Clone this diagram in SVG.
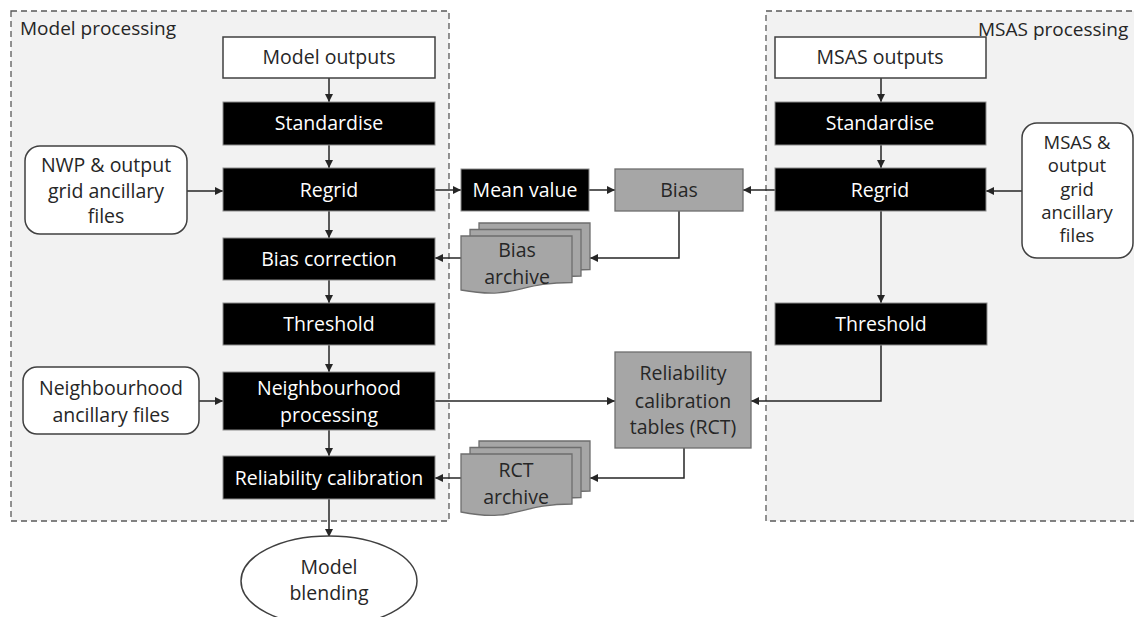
<svg xmlns="http://www.w3.org/2000/svg" width="1134" height="617" viewBox="0 0 1134 617">
<style>
text{font-family:"Open Sans","Liberation Sans",sans-serif;font-size:19.5px;text-anchor:middle}
.cont{fill:#f2f2f2;stroke:#595959;stroke-width:1.3;stroke-dasharray:6 4}
.title{text-anchor:start;fill:#262626;font-size:19px}
.wbox{fill:#ffffff;stroke:#404040;stroke-width:1.5}
.bbox{fill:#000000;stroke:#8c8c8c;stroke-width:1}
.gbox{fill:#a6a6a6;stroke:#6e6e6e;stroke-width:1.3}
.wt{fill:#ffffff}
.dt{fill:#262626}
.sm{font-size:18.5px}
.conn path{fill:none;stroke:#262626;stroke-width:1.5;marker-end:url(#ah)}
</style>
<defs>
<marker id="ah" markerUnits="userSpaceOnUse" markerWidth="9" markerHeight="8" refX="8" refY="4" orient="auto">
<path d="M0,0 L8,4 L0,8 z" fill="#262626"/>
</marker>
</defs>
<g id="model-processing">
<rect class="cont" x="11" y="11" width="438" height="510"/>
<text class="title" x="20" y="35">Model processing</text>
</g>
<g id="msas-processing">
<rect class="cont" x="766" y="11" width="380" height="510"/>
<text class="title" x="978" y="36">MSAS processing</text>
</g>
<g class="conn" id="connectors">
<path d="M329,78 V102"/>
<path d="M329,145 V168"/>
<path d="M329,211 V238"/>
<path d="M329,280 V303"/>
<path d="M329,345 V372"/>
<path d="M329,430 V456"/>
<path d="M329,499 V537"/>
<path d="M187,191 H223"/>
<path d="M199,401 H223"/>
<path d="M435,190 H461"/>
<path d="M589,190 H615"/>
<path d="M775,190 H743"/>
<path d="M679,211 V258 H590"/>
<path d="M461,258 H435"/>
<path d="M435,401 H615"/>
<path d="M684,448 V478 H590"/>
<path d="M461,478 H435"/>
<path d="M881,78 V102"/>
<path d="M881,145 V168"/>
<path d="M881,211 V303"/>
<path d="M881,345 V401 H751"/>
<path d="M1022,191 H986"/>
</g>
<g id="model-outputs"><rect class="wbox" x="223" y="37" width="212" height="41"/><text class="dt" x="329" y="64">Model outputs</text></g>
<g id="standardise-l"><rect class="bbox" x="223" y="102" width="212" height="43"/><text class="wt" x="329" y="130">Standardise</text></g>
<g id="regrid-l"><rect class="bbox" x="223" y="168" width="212" height="43"/><text class="wt" x="329" y="197">Regrid</text></g>
<g id="bias-correction"><rect class="bbox" x="223" y="238" width="212" height="42"/><text class="wt" x="329" y="266">Bias correction</text></g>
<g id="threshold-l"><rect class="bbox" x="223" y="303" width="212" height="42"/><text class="wt" x="329" y="331">Threshold</text></g>
<g id="neighbourhood-processing"><rect class="bbox" x="223" y="372" width="212" height="58"/><text class="wt" x="329" y="395">Neighbourhood</text><text class="wt" x="329" y="422">processing</text></g>
<g id="reliability-calibration"><rect class="bbox" x="223" y="456" width="212" height="43"/><text class="wt" x="329" y="485">Reliability calibration</text></g>
<g id="nwp-files"><rect class="wbox" x="25" y="146" width="162" height="88" rx="15"/><text class="dt" x="106" y="172">NWP &amp; output</text><text class="dt" x="106" y="198">grid ancillary</text><text class="dt" x="106" y="223">files</text></g>
<g id="neighbourhood-files"><rect class="wbox" x="23" y="367" width="176" height="67" rx="14"/><text class="dt" x="111" y="395">Neighbourhood</text><text class="dt" x="111" y="422">ancillary files</text></g>
<g id="model-blending"><ellipse class="wbox" cx="329" cy="581" rx="88" ry="45"/><text class="dt" x="329" y="574">Model</text><text class="dt" x="329" y="600">blending</text></g>
<g id="mean-value"><rect class="bbox" x="461" y="169" width="128" height="42"/><text class="wt" x="525" y="197">Mean value</text></g>
<g id="bias"><rect class="gbox" x="615" y="169" width="128" height="42"/><text class="dt" x="679" y="197">Bias</text></g>
<g id="bias-archive">
<path class="gbox" d="M479,223 H590 V269.5 C534.5,269.5 534.5,287 479,277 Z"/>
<path class="gbox" d="M470,229.5 H581 V276 C525.5,276 525.5,293.5 470,283.5 Z"/>
<path class="gbox" d="M461,236 H572 V282.5 C516.5,282.5 516.5,300 461,290 Z"/>
<text class="dt" x="517" y="257">Bias</text><text class="dt" x="517" y="284">archive</text>
</g>
<g id="rct"><rect class="gbox" x="615" y="352" width="136" height="96"/><text class="dt" x="683" y="380">Reliability</text><text class="dt" x="683" y="408">calibration</text><text class="dt" x="683" y="434">tables (RCT)</text></g>
<g id="rct-archive">
<path class="gbox" d="M479,441 H590 V491 C534.5,491 534.5,510 479,499 Z"/>
<path class="gbox" d="M470,447.5 H581 V497.5 C525.5,497.5 525.5,516.5 470,505.5 Z"/>
<path class="gbox" d="M461,454 H572 V504 C516.5,504 516.5,523 461,512 Z"/>
<text class="dt" x="516" y="477">RCT</text><text class="dt" x="516" y="504">archive</text>
</g>
<g id="msas-outputs"><rect class="wbox" x="775" y="37" width="211" height="41"/><text class="dt" x="880" y="64">MSAS outputs</text></g>
<g id="standardise-r"><rect class="bbox" x="775" y="102" width="211" height="43"/><text class="wt" x="880" y="130">Standardise</text></g>
<g id="regrid-r"><rect class="bbox" x="775" y="168" width="211" height="43"/><text class="wt" x="880" y="197">Regrid</text></g>
<g id="threshold-r"><rect class="bbox" x="775" y="303" width="212" height="42"/><text class="wt" x="881" y="331">Threshold</text></g>
<g id="msas-files"><rect class="wbox" x="1022" y="123" width="111" height="135" rx="15"/><text class="dt sm" x="1077" y="149">MSAS &amp;</text><text class="dt sm" x="1077" y="172">output</text><text class="dt sm" x="1077" y="196">grid</text><text class="dt sm" x="1077" y="219">ancillary</text><text class="dt sm" x="1077" y="242">files</text></g>
</svg>
